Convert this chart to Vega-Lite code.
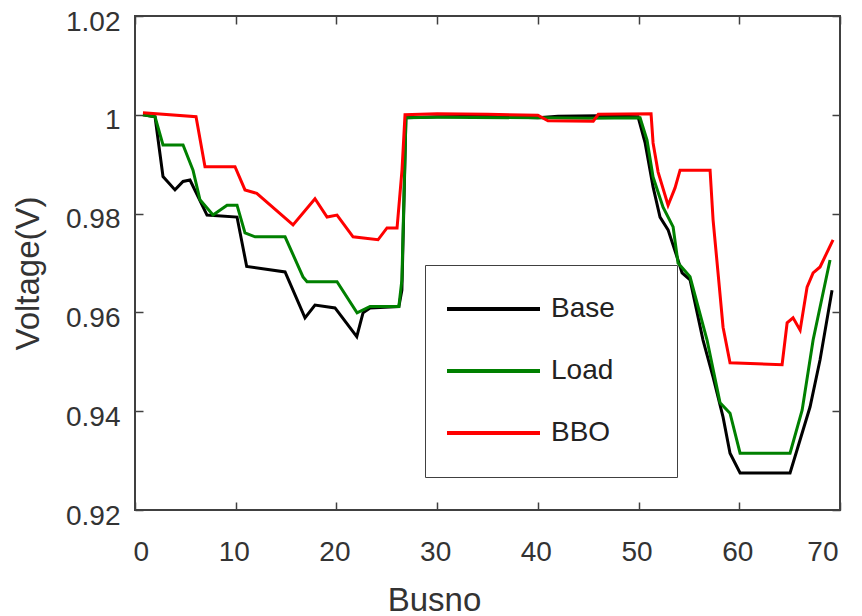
{
  "$schema": "https://vega.github.io/schema/vega-lite/v6.json",
  "autosize": {"type": "none"},
  "width": 705,
  "height": 494,
  "padding": {"left": 135, "top": 16, "right": 22, "bottom": 106},
  "background": "white",
  "config": {
    "font": "Liberation Sans",
    "view": {"stroke": "#404040", "strokeWidth": 2},
    "axis": {
      "grid": false,
      "domain": false,
      "tickColor": "#404040",
      "tickWidth": 1.5,
      "tickSize": -8,
      "labelFont": "Liberation Sans",
      "labelFontSize": 28,
      "labelColor": "#333333",
      "titleFont": "Liberation Sans",
      "titleFontSize": 33,
      "titleFontWeight": "normal",
      "titleColor": "#333333"
    },
    "legend": {
      "labelFont": "Liberation Sans",
      "labelFontSize": 28,
      "labelColor": "#222222"
    }
  },
  "resolve": {"axis": {"x": "independent", "y": "independent"}},
  "data": {
    "values": [
      {"series": "Base", "bus": 0.79, "v": 1.0},
      {"series": "Base", "bus": 1.99, "v": 0.9996},
      {"series": "Base", "bus": 2.78, "v": 0.9875},
      {"series": "Base", "bus": 3.97, "v": 0.9848},
      {"series": "Base", "bus": 4.77, "v": 0.9865},
      {"series": "Base", "bus": 5.46, "v": 0.9868},
      {"series": "Base", "bus": 7.15, "v": 0.9797},
      {"series": "Base", "bus": 10.13, "v": 0.9793},
      {"series": "Base", "bus": 11.09, "v": 0.9693},
      {"series": "Base", "bus": 14.9, "v": 0.9682},
      {"series": "Base", "bus": 16.88, "v": 0.9589},
      {"series": "Base", "bus": 17.87, "v": 0.9615},
      {"series": "Base", "bus": 19.86, "v": 0.9609},
      {"series": "Base", "bus": 22.02, "v": 0.9551},
      {"series": "Base", "bus": 22.64, "v": 0.9599},
      {"series": "Base", "bus": 23.34, "v": 0.9609},
      {"series": "Base", "bus": 26.2, "v": 0.9612},
      {"series": "Base", "bus": 26.5, "v": 0.9645},
      {"series": "Base", "bus": 26.9, "v": 0.9994},
      {"series": "Base", "bus": 30, "v": 0.9996},
      {"series": "Base", "bus": 35, "v": 0.9997},
      {"series": "Base", "bus": 40, "v": 0.9994},
      {"series": "Base", "bus": 42, "v": 0.9997},
      {"series": "Base", "bus": 46, "v": 0.9998},
      {"series": "Base", "bus": 49.95, "v": 0.9996},
      {"series": "Base", "bus": 50.65, "v": 0.9943},
      {"series": "Base", "bus": 51.44, "v": 0.9854},
      {"series": "Base", "bus": 52.13, "v": 0.9793},
      {"series": "Base", "bus": 52.93, "v": 0.9767},
      {"series": "Base", "bus": 53.82, "v": 0.9712},
      {"series": "Base", "bus": 54.32, "v": 0.968},
      {"series": "Base", "bus": 55.11, "v": 0.9666},
      {"series": "Base", "bus": 56.4, "v": 0.9544},
      {"series": "Base", "bus": 57.4, "v": 0.9469},
      {"series": "Base", "bus": 58.39, "v": 0.9388},
      {"series": "Base", "bus": 59.08, "v": 0.9315},
      {"series": "Base", "bus": 60.08, "v": 0.9275},
      {"series": "Base", "bus": 65.04, "v": 0.9275},
      {"series": "Base", "bus": 65.74, "v": 0.9322},
      {"series": "Base", "bus": 67.03, "v": 0.9409},
      {"series": "Base", "bus": 68.02, "v": 0.9504},
      {"series": "Base", "bus": 69.21, "v": 0.9645},
      {"series": "Load", "bus": 0.79, "v": 1.0},
      {"series": "Load", "bus": 1.99, "v": 0.9996},
      {"series": "Load", "bus": 2.78, "v": 0.9939},
      {"series": "Load", "bus": 4.77, "v": 0.9939},
      {"series": "Load", "bus": 5.76, "v": 0.9888},
      {"series": "Load", "bus": 6.45, "v": 0.9828},
      {"series": "Load", "bus": 7.75, "v": 0.9797},
      {"series": "Load", "bus": 9.14, "v": 0.9817},
      {"series": "Load", "bus": 10.13, "v": 0.9817},
      {"series": "Load", "bus": 10.92, "v": 0.9761},
      {"series": "Load", "bus": 11.92, "v": 0.9753},
      {"series": "Load", "bus": 14.9, "v": 0.9753},
      {"series": "Load", "bus": 16.68, "v": 0.9672},
      {"series": "Load", "bus": 17.08, "v": 0.9662},
      {"series": "Load", "bus": 20.06, "v": 0.9662},
      {"series": "Load", "bus": 22.05, "v": 0.9599},
      {"series": "Load", "bus": 23.34, "v": 0.9612},
      {"series": "Load", "bus": 26.2, "v": 0.9612},
      {"series": "Load", "bus": 26.5, "v": 0.9666},
      {"series": "Load", "bus": 26.9, "v": 0.9994},
      {"series": "Load", "bus": 30, "v": 0.9995},
      {"series": "Load", "bus": 40, "v": 0.9994},
      {"series": "Load", "bus": 45, "v": 0.9993},
      {"series": "Load", "bus": 50.15, "v": 0.9994},
      {"series": "Load", "bus": 50.84, "v": 0.9949},
      {"series": "Load", "bus": 51.44, "v": 0.9874},
      {"series": "Load", "bus": 52.43, "v": 0.9813},
      {"series": "Load", "bus": 53.43, "v": 0.9773},
      {"series": "Load", "bus": 53.92, "v": 0.97},
      {"series": "Load", "bus": 55.11, "v": 0.9672},
      {"series": "Load", "bus": 56.8, "v": 0.9544},
      {"series": "Load", "bus": 58.09, "v": 0.9417},
      {"series": "Load", "bus": 59.08, "v": 0.9396},
      {"series": "Load", "bus": 60.08, "v": 0.9315},
      {"series": "Load", "bus": 65.04, "v": 0.9315},
      {"series": "Load", "bus": 66.24, "v": 0.9402},
      {"series": "Load", "bus": 67.33, "v": 0.9544},
      {"series": "Load", "bus": 69.01, "v": 0.9706},
      {"series": "BBO", "bus": 0.79, "v": 1.0004},
      {"series": "BBO", "bus": 6.06, "v": 0.9996},
      {"series": "BBO", "bus": 6.95, "v": 0.9895},
      {"series": "BBO", "bus": 9.93, "v": 0.9895},
      {"series": "BBO", "bus": 10.92, "v": 0.9848},
      {"series": "BBO", "bus": 12.09, "v": 0.9841},
      {"series": "BBO", "bus": 15.69, "v": 0.9777},
      {"series": "BBO", "bus": 17.87, "v": 0.983},
      {"series": "BBO", "bus": 19.07, "v": 0.9793},
      {"series": "BBO", "bus": 20.06, "v": 0.9797},
      {"series": "BBO", "bus": 21.65, "v": 0.9753},
      {"series": "BBO", "bus": 24.13, "v": 0.9747},
      {"series": "BBO", "bus": 25.02, "v": 0.9771},
      {"series": "BBO", "bus": 26.02, "v": 0.9771},
      {"series": "BBO", "bus": 26.51, "v": 0.9888},
      {"series": "BBO", "bus": 26.81, "v": 1.0},
      {"series": "BBO", "bus": 30, "v": 1.0002},
      {"series": "BBO", "bus": 35, "v": 1.0001},
      {"series": "BBO", "bus": 40, "v": 0.9999},
      {"series": "BBO", "bus": 41, "v": 0.9988},
      {"series": "BBO", "bus": 45.5, "v": 0.9987},
      {"series": "BBO", "bus": 46, "v": 1.0001},
      {"series": "BBO", "bus": 51.24, "v": 1.0002},
      {"series": "BBO", "bus": 51.44, "v": 0.9943},
      {"series": "BBO", "bus": 51.94, "v": 0.9884},
      {"series": "BBO", "bus": 52.93, "v": 0.9817},
      {"series": "BBO", "bus": 53.62, "v": 0.9852},
      {"series": "BBO", "bus": 54.12, "v": 0.9888},
      {"series": "BBO", "bus": 57.1, "v": 0.9888},
      {"series": "BBO", "bus": 57.4, "v": 0.9787},
      {"series": "BBO", "bus": 57.89, "v": 0.968},
      {"series": "BBO", "bus": 58.39, "v": 0.957},
      {"series": "BBO", "bus": 59.08, "v": 0.9498},
      {"series": "BBO", "bus": 64.25, "v": 0.9494},
      {"series": "BBO", "bus": 64.75, "v": 0.9579},
      {"series": "BBO", "bus": 65.34, "v": 0.9589},
      {"series": "BBO", "bus": 66.04, "v": 0.9564},
      {"series": "BBO", "bus": 66.73, "v": 0.9651},
      {"series": "BBO", "bus": 67.33, "v": 0.968},
      {"series": "BBO", "bus": 68.02, "v": 0.9692},
      {"series": "BBO", "bus": 69.31, "v": 0.9747}
    ]
  },
  "layer": [
    {
      "transform": [{"filter": "datum.series === 'Base'"}],
      "mark": {"type": "line", "strokeWidth": 3},
      "encoding": {
        "x": {"field": "bus", "type": "quantitative",
          "scale": {"domain": [0, 70], "nice": false, "zero": false},
          "axis": {"orient": "bottom", "values": [0, 10, 20, 30, 40, 50, 60, 70], "title": "Busno",
            "labelPadding": 36, "labelOffset": -2, "titleX": 299, "titleY": 100, "titleBaseline": "alphabetic", "titleAlign": "center"}},
        "y": {"field": "v", "type": "quantitative",
          "scale": {"domain": [0.92, 1.02], "nice": false, "zero": false},
          "axis": {"orient": "left", "values": [0.92, 0.94, 0.96, 0.98, 1, 1.02], "format": "~g", "title": "Voltage(V)",
            "labelPadding": 23, "labelOffset": 6, "titleX": -97, "titleY": 257, "titleBaseline": "alphabetic", "titleAngle": -90, "titleAlign": "center"}},
        "color": {"field": "series", "type": "nominal",
          "scale": {"domain": ["Base", "Load", "BBO"], "range": ["#000000", "#008000", "#ff0000"]},
          "legend": {"title": null, "orient": "none", "legendX": 290, "legendY": 249,
            "symbolType": "stroke", "symbolSize": 8649, "symbolStrokeWidth": 4,
            "clipHeight": 48, "rowPadding": 14, "padding": 20, "labelOffset": 9,
            "labelExpr": "datum.label + '\u2800\u2800'",
            "strokeColor": "#404040", "fillColor": "white", "cornerRadius": 0}}
      }
    },
    {
      "transform": [{"filter": "datum.series === 'Load'"}],
      "mark": {"type": "line", "strokeWidth": 3},
      "encoding": {
        "x": {"field": "bus", "type": "quantitative",
          "axis": {"orient": "top", "values": [0, 10, 20, 30, 40, 50, 60, 70], "labels": false, "title": null}},
        "y": {"field": "v", "type": "quantitative",
          "axis": {"orient": "right", "values": [0.92, 0.94, 0.96, 0.98, 1, 1.02], "labels": false, "title": null}},
        "color": {"field": "series", "type": "nominal"}
      }
    },
    {
      "transform": [{"filter": "datum.series === 'BBO'"}],
      "mark": {"type": "line", "strokeWidth": 3},
      "encoding": {
        "x": {"field": "bus", "type": "quantitative", "axis": null},
        "y": {"field": "v", "type": "quantitative", "axis": null},
        "color": {"field": "series", "type": "nominal"}
      }
    }
  ]
}
